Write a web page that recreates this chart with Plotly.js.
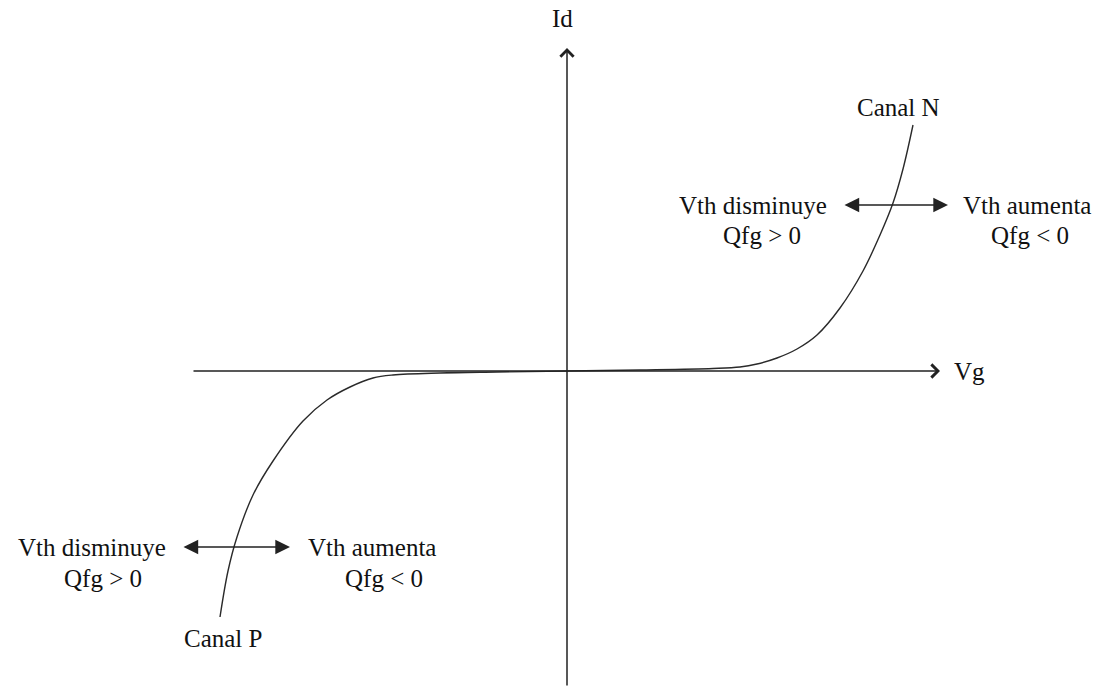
<!DOCTYPE html>
<html>
<head>
<meta charset="utf-8">
<script src="https://cdn.plot.ly/plotly-3.0.1.min.js"></script>
<style>html,body{margin:0;padding:0;background:#fff;}#chart{width:1099px;height:687px;}</style>
</head>
<body>
<div id="chart"></div>
<script>
// Curve data (schematic units: Vg horizontal, Id vertical, origin at axes crossing)
var vgN = [0, 73, 146, 173, 190, 210, 230, 250, 273, 296, 313, 326, 336, 346];
var idN = [0, 1, 2.5, 4, 7, 13, 22, 36, 63, 100, 136, 168, 202, 246];
var vgP = [0, -70, -127, -174, -194, -217, -240, -264, -294, -314, -330, -339, -347];
var idP = [0, -1, -2, -4, -7, -16, -29, -50, -90, -124, -166, -200, -246];

// Axis extents
var vgAxis = [-375, 373];
var idAxis = [-316, 323];

// Double-arrow extents (Vth shift indicators)
var arrowN = {x: [276, 381], y: 166};
var arrowP = {x: [-385, -277], y: -176};

var labelFont = {family: "Liberation Serif, Times New Roman, serif", size: 25, color: "#111"};
var lineColor = "#2a2a2a";

var traces = [
  {x: vgN, y: idN, mode: "lines", line: {color: lineColor, width: 1.4, shape: "spline", smoothing: 1}, hoverinfo: "skip"},
  {x: vgP, y: idP, mode: "lines", line: {color: lineColor, width: 1.4, shape: "spline", smoothing: 1}, hoverinfo: "skip"}
];

function arrowAnn(x0, y0, x1, y1, head, side, size, width) {
  return {x: x1, y: y1, ax: x0, ay: y0, xref: "x", yref: "y", axref: "x", ayref: "y",
    text: "", showarrow: true, arrowhead: head, startarrowhead: head, arrowside: side,
    arrowsize: size, startarrowsize: size, arrowwidth: width, arrowcolor: "#222", standoff: 0, startstandoff: 0};
}
function txt(t, x, y, xa) {
  return {x: x, y: y, xref: "x", yref: "y", text: t, showarrow: false, xanchor: xa, yanchor: "middle", font: labelFont};
}

var annotations = [
  arrowAnn(vgAxis[0], 0, vgAxis[1], 0, 4, "end", 1.7, 1.5),
  arrowAnn(0, idAxis[0], 0, idAxis[1], 4, "end", 1.7, 1.5),
  arrowAnn(arrowN.x[0], arrowN.y, arrowN.x[1], arrowN.y, 2, "end+start", 2.1, 1.4),
  arrowAnn(arrowP.x[0], arrowP.y, arrowP.x[1], arrowP.y, 2, "end+start", 2.1, 1.4),
  txt("Id", -5, 353, "center"),
  txt("Vg", 385, 0, "left"),
  txt("Canal N", 331, 264, "center"),
  txt("Vth disminuye", 186, 166, "center"),
  txt("Qfg &gt; 0", 195, 136, "center"),
  txt("Vth aumenta", 460, 166, "center"),
  txt("Qfg &lt; 0", 463, 136, "center"),
  txt("Vth disminuye", -475, -176, "center"),
  txt("Qfg &gt; 0", -464, -207, "center"),
  txt("Vth aumenta", -195, -176, "center"),
  txt("Qfg &lt; 0", -183, -207, "center"),
  txt("Canal P", -344, -267, "center")
];

var layout = {
  width: 1099, height: 687,
  margin: {l: 0, r: 0, t: 0, b: 0},
  paper_bgcolor: "#fff", plot_bgcolor: "#fff",
  showlegend: false,
  xaxis: {range: [-567, 532], visible: false, fixedrange: true},
  yaxis: {range: [-316, 371], visible: false, fixedrange: true},
  annotations: annotations
};

Plotly.newPlot("chart", traces, layout, {displayModeBar: false, staticPlot: true});
</script>
</body>
</html>
